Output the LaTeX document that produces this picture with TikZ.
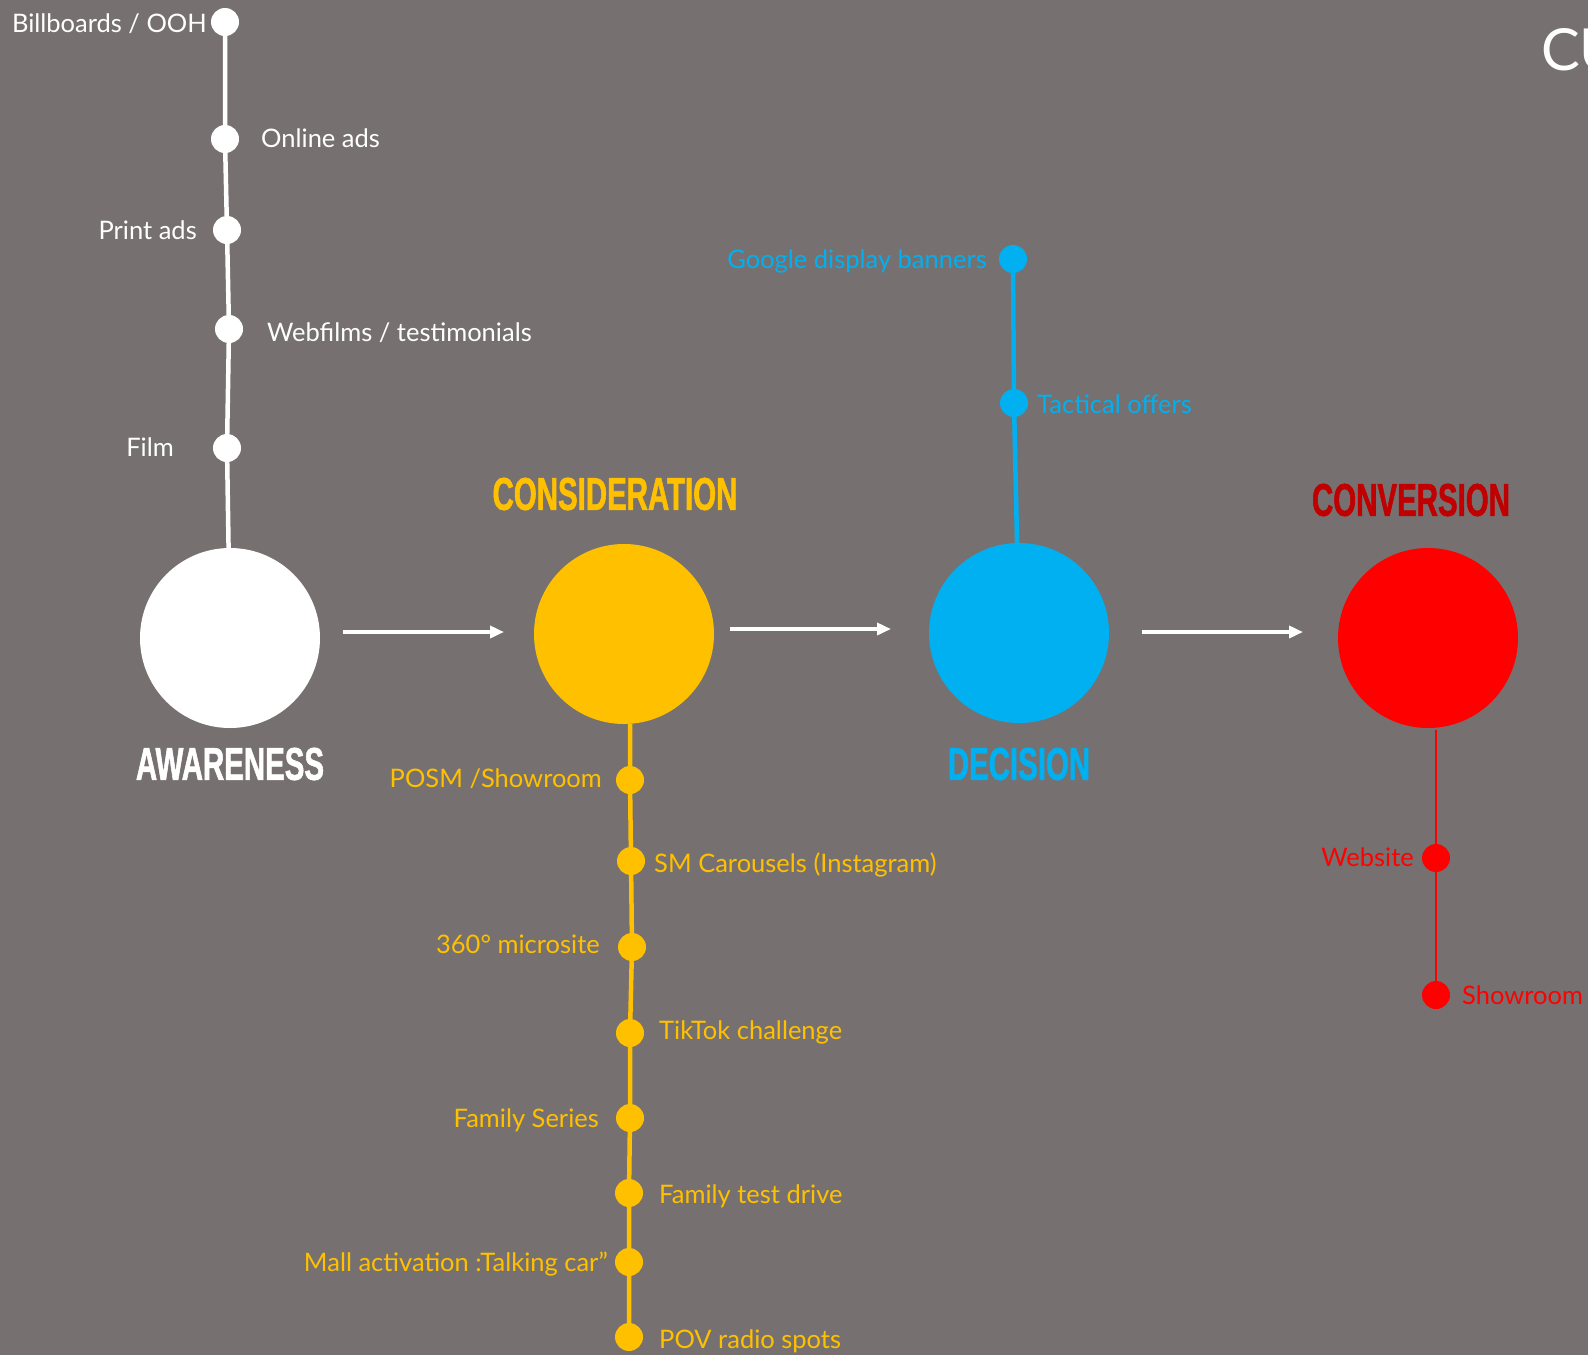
\documentclass[tikz,border=0pt]{standalone}
\usepackage{fontspec}
\setmainfont{Lato}
\newfontfamily\headfont{Liberation Sans}[FakeStretch=0.64,FakeBold=1.2]
\usetikzlibrary{arrows.meta}
\definecolor{bggrey}{HTML}{767170}
\definecolor{awcol}{HTML}{FFFFFF}
\definecolor{cscol}{HTML}{FFC000}
\definecolor{dccol}{HTML}{00B0F0}
\definecolor{cvcol}{HTML}{FF0000}
\definecolor{cvhead}{HTML}{C00000}
\tikzset{
    >={Triangle[length=14pt,width=12pt]},
    stage/.style={circle, fill=#1, minimum size=180pt, inner sep=0pt},
    touch/.style={circle, fill=#1, minimum size=28pt, inner sep=0pt},
    tlabel/.style={text=#1, font=\fontsize{25.5}{30}\selectfont, inner sep=0pt, yshift=-7pt},
    heading/.style={text=#1, font=\headfont\bfseries\fontsize{46}{50}\selectfont, inner sep=0pt},
    wire/.style={draw=#1, line width=4.5pt},
    flowarrow/.style={->, draw=white, line width=4pt}
}

\begin{document}
\begin{tikzpicture}[x=1pt, y=-1pt]
    \fill[bggrey] (0,0) rectangle (1588,1355);
    \useasboundingbox (0,0) rectangle (1588,1355);

    % stages
    \node[stage=awcol] (aw) at (230,638) {};
    \node[stage=cscol] (cs) at (624,634) {};
    \node[stage=dccol] (dc) at (1019,633) {};
    \node[stage=cvcol] (cv) at (1428,638) {};
    \path (343,632) coordinate (a1) (504,632) coordinate (a2)
          (730,629) coordinate (b1) (891,629) coordinate (b2)
          (1142,632) coordinate (c1) (1303,632) coordinate (c2);
    \draw[flowarrow] (a1) -- (a2);
    \draw[flowarrow] (b1) -- (b2);
    \draw[flowarrow] (c1) -- (c2);

    \node[heading=white] (awt) at (230,764) {AWARENESS};
    \node[heading=cscol] (cst) at (615,494) {CONSIDERATION};
    \node[heading=dccol] (dct) at (1019,764) {DECISION};
    \node[heading=cvhead] (cvt) at (1411,500) {CONVERSION};

    \node[text=white, font=\fontsize{58}{60}\selectfont, inner sep=0pt, anchor=mid west] (title) at (1541,68) {CU};

    % awareness touchpoints
    \node[touch=awcol] (w1) at (225,22) {};
    \node[touch=awcol] (w2) at (225,139) {};
    \node[touch=awcol] (w3) at (227,230) {};
    \node[touch=awcol] (w4) at (229,329) {};
    \node[touch=awcol] (w5) at (227,448) {};
    \draw[wire=awcol] (w1) -- (w2) -- (w3) -- (w4) -- (w5) -- (aw);
    \node[tlabel=white, anchor=mid east] (w1t) at (207,23) {Billboards / OOH};
    \node[tlabel=white, anchor=mid west] (w2t) at (261,138) {Online ads};
    \node[tlabel=white, anchor=mid east] (w3t) at (197,230) {Print ads};
    \node[tlabel=white, anchor=mid west] (w4t) at (267,332) {Webfilms / testimonials};
    \node[tlabel=white, anchor=mid east] (w5t) at (174,447) {Film};

    % consideration touchpoints
    \node[touch=cscol] (y1) at (630,780) {};
    \node[touch=cscol] (y2) at (631,861) {};
    \node[touch=cscol] (y3) at (632,947) {};
    \node[touch=cscol] (y4) at (630,1033) {};
    \node[touch=cscol] (y5) at (630,1118) {};
    \node[touch=cscol] (y6) at (629,1193) {};
    \node[touch=cscol] (y7) at (629,1262) {};
    \node[touch=cscol] (y8) at (629,1337) {};
    \draw[wire=cscol] (y1 |- cs.south) -- (y1) -- (y2) -- (y3) -- (y4) -- (y5) -- (y6) -- (y7) -- (y8);
    \node[tlabel=cscol, anchor=mid east] (y1t) at (602,778) {POSM /Showroom};
    \node[tlabel=cscol, anchor=mid west] (y2t) at (654,863) {SM Carousels (Instagram)};
    \node[tlabel=cscol, anchor=mid east] (y3t) at (600,944) {360° microsite};
    \node[tlabel=cscol, anchor=mid west] (y4t) at (659,1030) {TikTok challenge};
    \node[tlabel=cscol, anchor=mid east] (y5t) at (599,1118) {Family Series};
    \node[tlabel=cscol, anchor=mid west] (y6t) at (659,1194) {Family test drive};
    \node[tlabel=cscol, anchor=mid east] (y7t) at (608,1262) {Mall activation :Talking car”};
    \node[tlabel=cscol, anchor=mid west] (y8t) at (659,1339) {POV radio spots};

    % decision touchpoints
    \node[touch=dccol] (b1) at (1013,259) {};
    \node[touch=dccol] (b2) at (1014,403) {};
    \draw[wire=dccol] (b1) -- (b2) -- (dc);
    \node[tlabel=dccol, anchor=mid east] (b1t) at (987,259) {Google display banners};
    \node[tlabel=dccol, anchor=mid west] (b2t) at (1037,404) {Tactical offers};

    % conversion touchpoints
    \node[touch=cvcol] (r1) at (1436,858) {};
    \node[touch=cvcol] (r2) at (1436,995) {};
    \draw[wire=cvcol, line width=2.5pt] (r2) -- (r1) -- ([yshift=-2pt]r1 |- cv.south);
    \node[tlabel=cvcol, anchor=mid east] (r1t) at (1414,857) {Website};
    \node[tlabel=cvcol, anchor=mid west] (r2t) at (1462,995) {Showroom};
\end{tikzpicture}
\end{document}
